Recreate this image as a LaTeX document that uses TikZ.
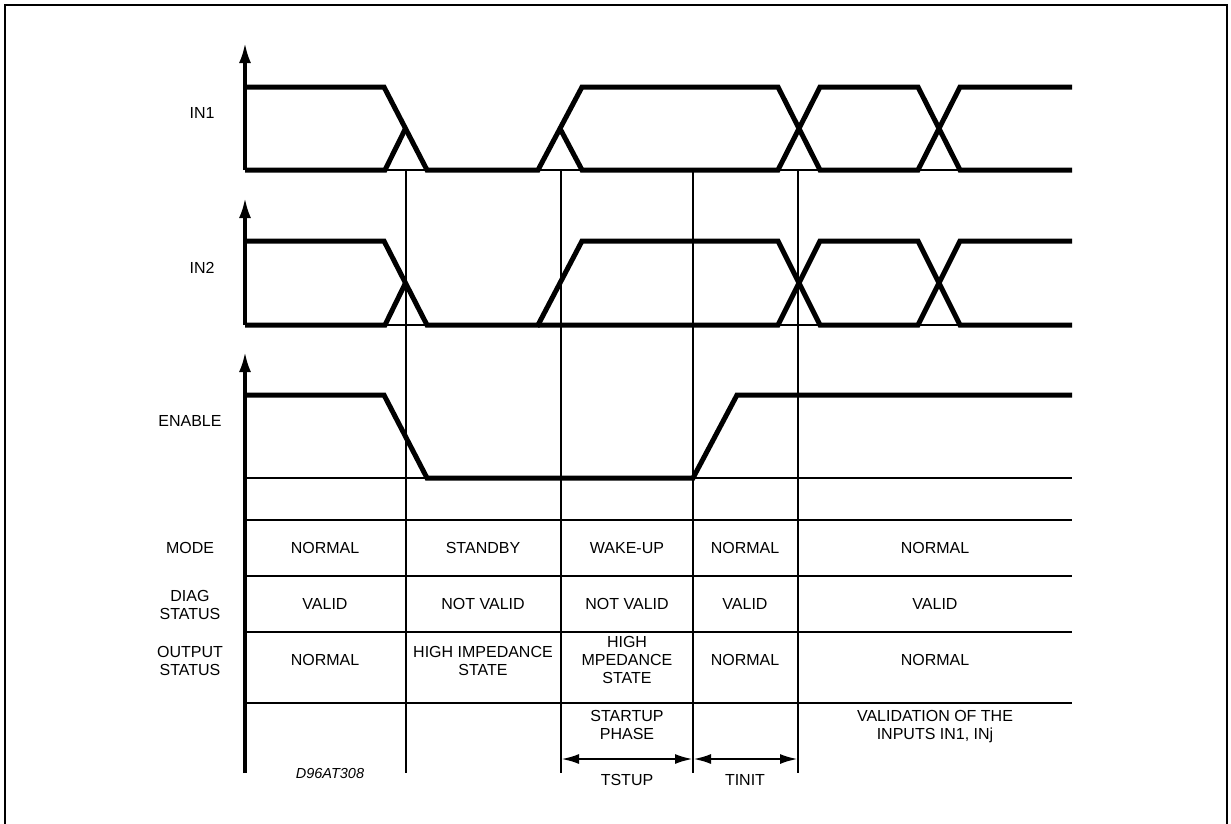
\documentclass[tikz,border=0pt]{standalone}
\usepackage{fontspec}
\setmainfont{Liberation Sans}
\usetikzlibrary{arrows.meta}
\begin{document}
\begin{tikzpicture}[x=1pt,y=-1pt,
  sig/.style={line width=5pt, line join=miter},
  gridline/.style={line width=2.6pt},
  axisline/.style={line width=3.2pt, -{Latex[length=20pt,width=12pt]}},
  dimarrow/.style={line width=2.6pt, {Latex[length=18pt,width=10pt]}-{Latex[length=18pt,width=10pt]}},
  lbl/.style={font=\fontsize{16}{18}\selectfont, align=center, inner sep=0pt},
  codelbl/.style={font=\fontsize{14.5}{16}\selectfont\itshape, inner sep=0pt},
]
\useasboundingbox (0,0) rectangle (1231,823);
% frame
\draw[line width=2.6pt] (5,840) -- (5,5) -- (1227,5) -- (1227,840);

% axes
\draw[axisline] (245,170) -- (245,43);
\draw[axisline] (245,325) -- (245,198);
\draw[axisline] (245,773) -- (245,352);

% thin base lines
\draw[gridline] (245,170) -- (1072,170);
\draw[gridline] (245,325) -- (1072,325);
\draw[gridline] (245,478) -- (1072,478);
\foreach \yy in {520,576,632,703} \draw[gridline] (245,\yy) -- (1072,\yy);

% vertical markers
\foreach \xx in {406,561,693,798} \draw[gridline] (\xx,170) -- (\xx,773);

% IN1
\draw[sig] (245,87) -- (384,87) -- (427,170) -- (538,170) -- (582,87) -- (778,87) -- (820,170) -- (918,170) -- (960,87) -- (1072,87);
\draw[sig] (245,170) -- (385,170) -- (405.5,128.5);
\draw[sig] (560,128.5) -- (582,170) -- (778,170) -- (820,87) -- (918,87) -- (960,170) -- (1072,170);

% IN2
\draw[sig] (245,241) -- (384,241) -- (427,325) -- (538,325) -- (582,241) -- (778,241) -- (820,325) -- (918,325) -- (960,241) -- (1072,241);
\draw[sig] (245,325) -- (385,325) -- (405.5,283);
\draw[sig] (538,325) -- (778,325) -- (820,241) -- (918,241) -- (960,325) -- (1072,325);

% ENABLE
\draw[sig] (245,395) -- (384,395) -- (427,478) -- (693,478) -- (737,395) -- (1072,395);

% signal labels
\node[lbl] (lin1) at (202,113) {IN1};
\node[lbl] (lin2) at (202,268) {IN2};
\node[lbl] (len) at (190,421) {ENABLE};
\node[lbl] (lmode) at (190,548) {MODE};
\node[lbl] (ldiag) at (190,605) {DIAG\\STATUS};
\node[lbl] (lout) at (190,661) {OUTPUT\\STATUS};

% MODE row
\node[lbl] (m1) at (325,548) {NORMAL};
\node[lbl] (m2) at (483,548) {STANDBY};
\node[lbl] (m3) at (627,548) {WAKE-UP};
\node[lbl] (m4) at (745,548) {NORMAL};
\node[lbl] (m5) at (935,548) {NORMAL};
% DIAG row
\node[lbl] (d1) at (325,604) {VALID};
\node[lbl] (d2) at (483,604) {NOT VALID};
\node[lbl] (d3) at (627,604) {NOT VALID};
\node[lbl] (d4) at (745,604) {VALID};
\node[lbl] (d5) at (935,604) {VALID};
% OUTPUT row
\node[lbl] (o1) at (325,660) {NORMAL};
\node[lbl] (o2) at (483,661) {HIGH IMPEDANCE\\STATE};
\node[lbl] (o3) at (627,660) {HIGH\\MPEDANCE\\STATE};
\node[lbl] (o4) at (745,660) {NORMAL};
\node[lbl] (o5) at (935,660) {NORMAL};

% bottom row
\node[lbl] (sp) at (627,725) {STARTUP\\PHASE};
\node[lbl] (val) at (935,727) {VALIDATION OF THE\\INPUTS IN1, INj};
\coordinate (a1) at (561,759);
\coordinate (a2) at (693,759);
\coordinate (a3) at (798,759);
\draw[dimarrow] (a1) -- (a2);
\draw[dimarrow] (a2) -- (a3);
\node[lbl] (tstup) at (627,780) {TSTUP};
\node[lbl] (tinit) at (745,780) {TINIT};
\node[codelbl] (code) at (330,773) {D96AT308};
\end{tikzpicture}
\end{document}
